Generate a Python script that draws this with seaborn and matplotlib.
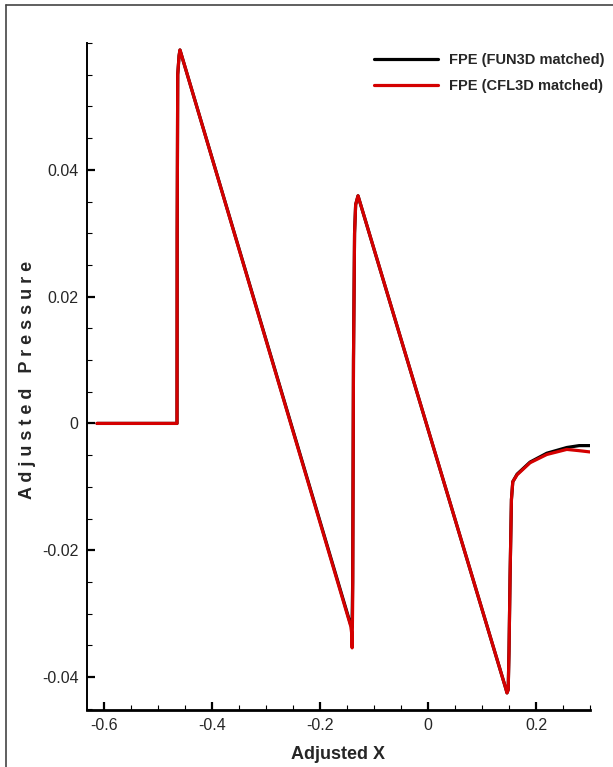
import numpy as np
import pandas as pd
import matplotlib
matplotlib.use("Agg")
import matplotlib.pyplot as plt
from matplotlib.lines import Line2D
from matplotlib.ticker import MultipleLocator
import seaborn as sns

# series values
fun3d_x = [-0.613, -0.4648, -0.4645, -0.4635, -0.461, -0.4593, -0.143, -0.1407,
           -0.1395, -0.138, -0.136, -0.134, -0.1296, 0.144, 0.1463, 0.1485, 0.150,
           0.152, 0.1545, 0.157, 0.165, 0.189, 0.220, 0.257, 0.280, 0.300]
fun3d_y = [0.0, 0.0, 0.030, 0.055, 0.0580, 0.0589, -0.0318, -0.0322,
           -0.025, 0.010, 0.030, 0.0345, 0.0359, -0.0418, -0.0425, -0.0420, -0.036,
           -0.024, -0.0120, -0.0092, -0.0080, -0.0061, -0.0047, -0.0038, -0.0035, -0.0035]

cfl3d_x = [-0.613, -0.4648, -0.4645, -0.4635, -0.461, -0.4593, -0.143, -0.1415,
           -0.1405, -0.1395, -0.138, -0.136, -0.134, -0.1296, 0.144, 0.1463, 0.1485,
           0.150, 0.152, 0.1545, 0.157, 0.165, 0.189, 0.220, 0.257, 0.280, 0.300]
cfl3d_y = [0.0, 0.0, 0.030, 0.055, 0.0580, 0.0589, -0.0320, -0.0330,
           -0.0354, -0.028, 0.010, 0.030, 0.0345, 0.0359, -0.0418, -0.0425, -0.0420,
           -0.036, -0.024, -0.0120, -0.0092, -0.0081, -0.0062, -0.0049, -0.0041, -0.0043, -0.0045]

labels = ["FPE (FUN3D matched)", "FPE (CFL3D matched)"]
colors = ["#000000", "#d40000"]

df = pd.concat([
    pd.DataFrame({"x": fun3d_x, "y": fun3d_y, "series": labels[0]}),
    pd.DataFrame({"x": cfl3d_x, "y": cfl3d_y, "series": labels[1]}),
])

sns.set_style("white")
plt.rcParams["font.family"] = ["Liberation Sans", "DejaVu Sans"]
plt.rcParams["xtick.direction"] = "in"
plt.rcParams["ytick.direction"] = "in"

fig = plt.figure(figsize=(6.13, 7.67), dpi=100)
ax = fig.add_axes([87 / 613, 57 / 767, 503 / 613, 667 / 767])

sns.lineplot(data=df, x="x", y="y", hue="series", palette=colors,
             sort=False, estimator=None, linewidth=2.3, legend=False, ax=ax)

ax.set_xlim(-0.6315, 0.3)
ax.set_ylim(-0.0452, 0.06)

ax.xaxis.set_minor_locator(MultipleLocator(0.05))
ax.yaxis.set_minor_locator(MultipleLocator(0.005))
ax.set_xticks([-0.6, -0.4, -0.2, 0, 0.2])
ax.set_xticklabels(["-0.6", "-0.4", "-0.2", "0", "0.2"])
ax.set_yticks([-0.04, -0.02, 0, 0.02, 0.04])
ax.set_yticklabels(["-0.04", "-0.02", "0", "0.02", "0.04"])

ax.tick_params(which="major", length=6, width=1.6, labelsize=11.5, pad=6, color="black")
ax.tick_params(which="minor", length=3.5, width=0.8, color="black")
ax.tick_params(axis="x", which="both", bottom=True)
ax.tick_params(axis="y", which="both", left=True)

for side in ["top", "right"]:
    ax.spines[side].set_visible(False)
ax.spines["left"].set_linewidth(1.4)
ax.spines["bottom"].set_linewidth(2.0)
ax.spines["left"].set_color("black")
ax.spines["bottom"].set_color("black")

ax.set_xlabel("")
ax.set_ylabel("")
fig.text(338 / 613, 8 / 767, "Adjusted X", ha="center", va="baseline",
         fontsize=13, fontweight="bold")
fig.text(28 / 613, 1 - 380 / 767, "A d j u s t e d   P r e s s u r e",
         ha="center", va="center", rotation=90, fontsize=13, fontweight="bold")

handles = [Line2D([], [], color=c, lw=2.3) for c in colors]
ax.legend(handles, labels, loc="upper left", bbox_to_anchor=(374 / 613, 1 - 53 / 767),
          bbox_transform=fig.transFigure, frameon=False, borderpad=0, borderaxespad=0,
          handlelength=4.4, handletextpad=0.75, labelspacing=0.85,
          prop={"size": 10.5, "weight": "bold"})

# frame lines around the plot area (left and top only)
fig.add_artist(Line2D([6 / 613, 6 / 613], [0, 1 - 5 / 767], transform=fig.transFigure,
                      color="#444444", lw=1.2))
fig.add_artist(Line2D([6 / 613, 1], [1 - 5 / 767, 1 - 5 / 767], transform=fig.transFigure,
                      color="#444444", lw=1.2))

fig.savefig("out.png", dpi=100)
